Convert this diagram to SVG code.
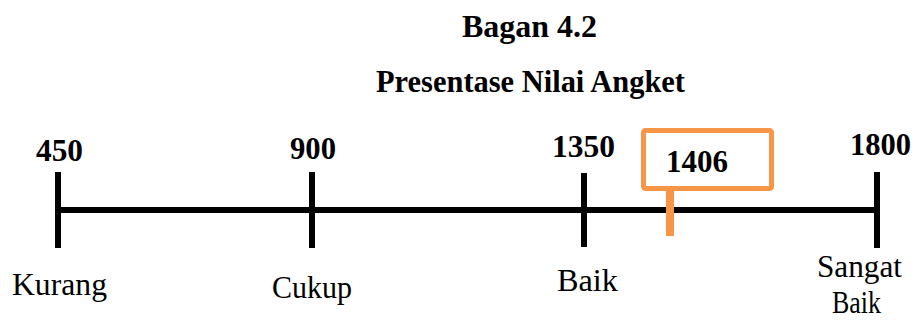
<svg xmlns="http://www.w3.org/2000/svg" width="915" height="320" viewBox="0 0 915 320">
<style>
.t{font-family:"Liberation Serif","Times New Roman",serif;fill:#000}
.b{font-weight:bold;font-size:32px}
.r{font-size:31px}
.tick{stroke:#000;stroke-width:6}
</style>
<rect width="915" height="320" fill="#fff"/>
<g id="title">
<text class="t b" x="462" y="37" textLength="135" lengthAdjust="spacingAndGlyphs">Bagan 4.2</text>
<text class="t b" x="376" y="92" textLength="309" lengthAdjust="spacingAndGlyphs">Presentase Nilai  Angket</text>
</g>
<g id="connectors">
<line class="tick" x1="57" y1="210" x2="877" y2="210"/>
</g>
<g id="n450">
<line class="tick" x1="58" y1="172" x2="58" y2="248"/>
<text class="t b" x="36" y="161" textLength="47" lengthAdjust="spacingAndGlyphs">450</text>
<text class="t r" x="12" y="295" textLength="95" lengthAdjust="spacingAndGlyphs">Kurang</text>
</g>
<g id="n900">
<line class="tick" x1="312" y1="172" x2="312" y2="248"/>
<text class="t b" x="290" y="159" textLength="46" lengthAdjust="spacingAndGlyphs">900</text>
<text class="t r" x="272" y="298" textLength="80" lengthAdjust="spacingAndGlyphs">Cukup</text>
</g>
<g id="n1350">
<line class="tick" x1="584" y1="173" x2="584" y2="247"/>
<text class="t b" x="552" y="157" textLength="63" lengthAdjust="spacingAndGlyphs">1350</text>
<text class="t r" x="557" y="291" textLength="61" lengthAdjust="spacingAndGlyphs">Baik</text>
</g>
<g id="n1800">
<line class="tick" x1="877" y1="172" x2="877" y2="248"/>
<text class="t b" x="850" y="155" textLength="61" lengthAdjust="spacingAndGlyphs">1800</text>
<text class="t r" x="817" y="277" textLength="85" lengthAdjust="spacingAndGlyphs">Sangat</text>
<text class="t r" x="832" y="313" textLength="49" lengthAdjust="spacingAndGlyphs">Baik</text>
</g>
<g id="n1406">
<rect x="643.5" y="130.5" width="128" height="58" rx="2" fill="#fff" stroke="#F79646" stroke-width="5"/>
<rect x="666" y="191" width="8" height="45" fill="#F79646"/>
<text class="t b" x="666" y="172" textLength="62" lengthAdjust="spacingAndGlyphs">1406</text>
</g>
</svg>
